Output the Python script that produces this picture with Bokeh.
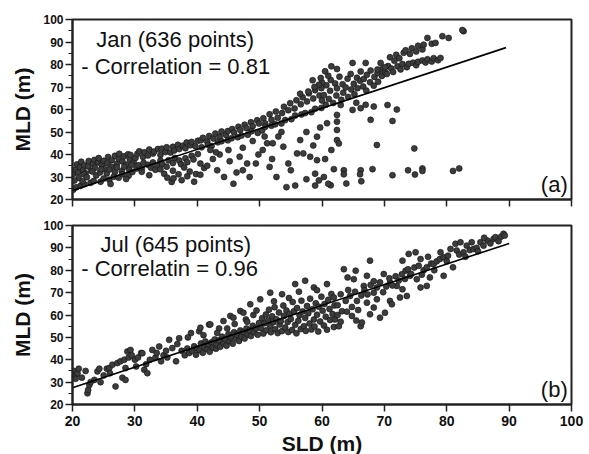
from bokeh.plotting import figure
from bokeh.layouts import column
from bokeh.models import Label, FixedTicker
from bokeh.embed import file_html
from bokeh.resources import INLINE

# ---------------- data ----------------
ticks = [20, 30, 40, 50, 60, 70, 80, 90, 100]
minor = [25, 35, 45, 55, 65, 75, 85, 95]

# Jan panel (a): (SLD, MLD) pairs grouped by region
jan_a = [(20.2,31.5),(20.5,33.2),(20.7,35.6),(20.9,32.1),(21.2,34.4),(21.4,36.8),(21.7,33.0),(21.9,35.2),(22.1,31.6),(22.5,34.7),
         (22.6,37.1),(23.0,32.8),(23.3,35.9),(23.5,37.6),(23.6,34.1),(24.1,36.5),(24.2,38.4),(24.7,35.3),(25.0,37.2),(25.1,33.6),
         (25.6,36.1),(25.7,38.9),(26.2,34.6),(26.3,37.5),(26.8,39.4),(27.1,35.8),(27.4,38.1),(27.5,40.3),(28.0,36.9),(28.3,39.2),
         (28.6,35.5),(28.9,40.1),(29.2,37.7),(29.3,39.8),(29.8,36.6),(30.1,38.5),
         (21.0,29.6),(21.8,31.2),(22.3,29.9),(23.2,32.4),(23.8,30.7),(24.4,32.0),(24.6,33.5),(25.5,31.6),(25.9,33.3),(26.8,32.2),
         (27.1,34.3),(27.9,32.7),(28.3,34.6),(29.1,33.1),(29.5,35.4),(30.3,33.8),
         (20.1,24.3),(20.6,25.4),(21.3,26.1),(21.9,26.8),(22.9,27.4),(23.4,28.2),(24.5,27.9),(25.0,29.3),(25.9,28.8),(26.6,30.1),
         (27.4,29.7),(28.0,31.2),(29.0,30.6),(29.6,32.2),(20.3,28.4),(21.6,28.1),(26.1,26.9),(28.6,29.1)]
jan_b = [(30.4,40.3),(30.7,41.4),(31.3,38.9),(31.5,41.0),(32.1,39.6),(32.3,42.2),(32.9,40.4),(33.1,41.3),(33.7,42.4),(34.1,39.8),
         (34.3,42.6),(34.9,41.1),(35.1,43.2),(35.7,40.9),(36.1,43.4),(36.3,41.8),(36.9,44.3),(37.1,42.4),(37.7,43.9),(38.1,42.8),
         (38.3,45.3),(38.9,44.1),(39.1,45.6),(39.7,43.7),(40.1,46.1),
         (30.6,35.2),(31.1,33.7),(31.4,36.3),(32.1,35.4),(32.6,34.1),(32.9,36.5),(33.6,35.1),(34.1,37.3),(34.4,35.8),(35.1,34.6),
         (35.4,37.4),(36.1,36.2),(36.4,38.5),(37.1,37.3),(37.4,35.7),(38.1,38.3),(38.4,36.6),(39.1,39.4),(39.4,37.8),(40.1,40.2),
         (31.1,32.3),(32.3,30.8),(33.3,33.2),(34.7,31.4),(35.2,29.7),(35.9,27.8),(36.2,29.4),(37.0,31.2),(37.5,28.6),(38.4,30.3),
         (38.8,32.4),(39.5,27.9),(39.8,31.3),(34.1,33.4),(36.1,32.8),(37.9,34.2)]
jan_c = [(40.6,46.3),(40.9,47.4),(41.6,45.8),(41.9,48.2),(42.6,47.1),(42.9,49.3),(43.6,47.9),(43.9,50.2),(44.6,48.7),(44.9,50.4),
         (45.6,51.3),(45.9,49.8),(46.6,52.3),(46.9,50.9),(47.6,53.2),(47.9,51.7),(48.6,54.3),(48.9,52.6),(49.6,55.2),(49.9,53.8),
         (40.7,43.2),(41.7,44.3),(42.3,43.8),(43.3,45.4),(43.9,45.9),(44.9,46.3),(45.5,47.2),(46.5,47.7),(47.1,48.4),(48.1,48.8),
         (48.7,50.3),(49.7,49.6),
         (40.5,36),(40.5,31),(41.1,34),(41.6,35),(42.1,42),(42.5,38),(43.2,33),(43.6,40),(44.3,30),(45.2,37),
         (45.8,27),(46.3,32),(47.3,43),(47.3,33),(48.0,36),(48.4,30),(48.9,46),(49.4,36),(49.8,40),(45.0,42),
         (43.0,41),(46.8,39)]
jan_d = [(50.6,56.1),(50.9,53.8),(51.6,57.9),(51.9,55.4),(52.6,59.1),(52.9,56.3),(53.6,58.4),(53.9,61.2),(54.6,59.7),(54.9,62.8),
         (55.6,60.5),(55.9,64.1),(56.6,62.3),(56.9,65.4),(57.6,63.6),(57.9,67.2),(58.6,64.9),(58.9,68.6),(59.6,66.2),(59.9,69.5),
         (50.4,50.7),(50.9,52.3),(51.9,52.8),(52.5,53.4),(53.5,53.8),(54.1,55.3),(55.1,55.7),(55.7,57.3),(56.7,57.8),(57.3,58.4),
         (58.3,58.8),(58.9,60.3),(59.9,60.7),
         (50.5,42),(51.2,45),(51.6,34.5),(52.1,45),(52.7,30),(53.0,48),(53.8,43.5),(54.3,25.5),(54.6,36),(55.7,26.2),
         (56.0,40.5),(56.5,46.4),(57.0,40.5),(57.5,50),(58.1,39),(58.6,44),(58.9,31.5),(58.9,26.2),(59.2,37.5),(59.2,47.9),
         (59.5,28.5),(59.7,52),(52.0,38),(55.0,33),(57.5,29),(53.5,50),(50.8,48)]
jan_e = [(60.3,66.4),(60.6,62.1),(60.7,70.8),(61.1,64.7),(61.3,68.3),(61.4,73.1),(61.8,62.9),(62.1,71.6),(62.3,66.2),(62.4,69.4),
         (62.8,74.6),(63.1,64.3),(63.3,71.2),(63.4,67.5),(63.8,69.8),(64.1,73.7),(64.2,65.6),(64.6,75.8),(64.7,68.9),(65.1,71.4),
         (65.2,66.8),(65.6,74.1),(65.7,69.5),(66.1,72.8),(66.2,76.9),(66.6,70.2),(66.7,73.6),(67.1,68.4),(67.2,75.4),(67.7,72.1),
         (67.8,77.3),(68.3,70.6),(68.4,74.5),(68.9,76.2),(69.0,72.3),(69.5,77.8),(69.6,74.9),(70.1,76.6),
         (60.0,72),(61.0,75),(60.5,77),(62.4,78),(64.9,80.7),(67.0,80.7),(69.4,80.7),(61.5,79.2),(59.8,74),(59.5,71),
         (60.0,64),(58.8,70),(58.5,73),(57.8,68),(56.5,67),
         (60.8,53.9),(62.4,50.9),(62.4,46.4),(62.4,57.6),(62.4,54.6),(64.9,59.8),(66.2,60.6),(67.0,62.1),(68.3,61.3),(67.8,55.4),
         (71.3,54.9),(62.7,44.9),(68.8,44.2),(61.4,26.3),(61.9,33.5),(63.5,33.0),(63.5,31.2),(66.2,33.0),(66.1,31.2),(68.1,33.5),
         (63.9,27.1),(66.3,28.1),(61.0,27),(60.3,30),(60.5,38),(61.5,42),(63.0,62),(65.5,63)]
jan_f = [(70.6,79.3),(70.9,83.2),(71.6,81.7),(71.9,84.3),(72.4,82.8),(73.1,85.2),(73.4,86.3),(74.1,84.7),(74.4,87.2),(75.1,85.8),
         (75.4,88.3),(76.1,86.7),(76.3,88.8),(76.9,91.8),(77.6,89.2),(78.2,89.6),(79.3,92.6),(80.3,91.8),(82.7,94.8),(82.5,95.3),
         (70.4,75.8),(71.1,78.2),(71.4,76.7),(72.1,79.2),(72.6,77.8),(72.9,80.2),(73.6,78.8),(73.9,80.3),(74.6,80.8),(75.1,79.7),
         (75.4,81.2),(76.1,81.8),(76.6,80.9),(76.9,82.3),(77.6,81.3),(77.9,82.8),(78.6,81.9),(79.0,82.9),(70.1,78.8),(68.9,77.8),
         (71.3,30.8),(73.8,33.0),(74.9,31.1),(76.1,33.8),(76.1,32.7),(81.0,32.7),(82.0,33.8),(74.8,42.7),(72.0,60),(70.5,62)]

# Jul panel (b)
jul_a = [(20.2,35),(20.5,33),(20.5,31.5),(20.8,34),(21.0,36),(21.5,32),(22.1,35),(22.4,25),(22.5,26.5),(22.7,28.7),
         (22.9,30),(23.5,31),(24.0,34.8),(24.3,36),(25.0,33),(25.5,36),(25.9,36.3),(26.4,37.8),(26.9,28.1),(27.2,38.5),
         (27.7,39.3),(28.0,32),(28.3,40),(28.5,36.3),(28.5,31),(28.8,43.7),(29.0,41),(29.3,44.4),(29.5,42),(30.0,40),
         (26.0,34),(24.5,30)]
jul_b = [(30.5,41),(31.0,43),(31.2,42.9),(31.5,35.5),(32.0,34),(32.4,40),(32.8,44.4),(33.3,41),(33.9,45.9),(34.2,39.3),
         (34.6,42),(35.0,44),(35.5,48.9),(36.0,45.2),(36.6,39.3),(37.1,49.6),(37.5,44),(38.0,42),(38.4,45),(38.7,43),
         (39.0,51.9),(39.2,44),(39.5,46),(39.8,42.2),(40.0,45),(40.3,52.7),(38.5,50),(36.8,47),(35.2,41),(33.5,43),
         (31.8,38),(30.2,37)]
jul_c = [(40.4,44.2),(40.6,47.3),(40.9,43.1),(41.1,45.8),(41.3,48.2),(41.6,44.7),(41.8,46.9),(42.0,43.6),(42.3,47.8),(42.5,45.4),
         (42.8,49.1),(43.0,44.9),(43.2,46.6),(43.5,48.7),(43.7,45.8),(44.0,50.3),(44.2,47.4),(44.5,49.2),(44.7,46.3),(45.0,51.4),
         (45.2,48.3),(45.4,50.1),(45.7,47.2),(45.9,52.3),(46.2,49.6),(46.4,51.2),(46.7,48.4),(46.9,53.1),(47.1,50.2),(47.4,52.4),
         (47.6,49.5),(47.9,54.0),(48.1,51.3),(48.4,53.2),(48.6,50.6),(48.9,55.2),(49.1,52.3),(49.4,54.1),(49.7,51.2),(49.9,56.4),
         (41.9,55.7),(42.1,55.8),(43.5,54.0),(44.2,57.3),(45.3,59.6),(45.8,58.8),(46.9,61.8),(47.4,61.0),(48.5,64.8),(49.0,60.0),
         (47.8,58.0),(46.0,56.0),(44.8,54.0),(43.2,52.0),(40.5,54.3),(41.0,51.0),(48.0,57.0),(49.5,62.0)]
jul_d = [(50.2,54.1),(50.4,58.6),(50.6,51.7),(50.8,56.3),(51.0,60.2),(51.1,53.2),(51.4,57.7),(51.5,62.4),(51.7,55.1),(51.8,52.3),
         (52.0,59.4),(52.2,56.8),(52.4,63.5),(52.5,53.6),(52.7,58.1),(52.9,51.9),(53.1,61.1),(53.2,55.7),(53.4,57.3),(53.6,52.8),
         (53.8,64.2),(53.9,59.6),(54.1,54.4),(54.3,62.0),(54.5,56.9),(54.6,52.4),(54.8,60.5),(55.0,58.2),(55.2,53.3),(55.3,65.8),
         (55.5,61.7),(55.7,55.6),(55.9,51.8),(56.0,63.1),(56.2,57.4),(56.4,59.9),(56.6,53.7),(56.7,66.4),(56.9,61.6),(57.1,55.0),
         (57.3,58.7),(57.4,52.9),(57.6,64.0),(57.8,60.8),(58.0,56.2),(58.1,67.3),(58.3,53.5),(58.5,62.6),(58.7,58.0),(58.8,54.9),
         (59.0,65.2),(59.2,60.1),(59.4,52.6),(59.5,63.7),(59.7,57.1),(59.9,68.2),(60.1,61.9),(60.3,55.3),(60.4,64.9),(60.6,59.2),
         (60.8,53.4),(61.0,66.8),(61.2,62.7),(61.3,57.8),(61.5,69.4),(61.7,60.4),(61.9,54.6),(62.0,64.3),
         (50.1,67.0),(51.7,70.0),(53.6,69.3),(55.7,73.8),(57.3,75.3),(58.7,72.3),(60.8,73.8),(52.3,66.1),(54.7,67.6),(56.3,70.4),
         (59.2,71.1)]
jul_e = [(62.1,58),(62.7,55),(63.0,69.3),(63.5,80.5),(64.1,76.8),(64.5,68.5),(64.8,59.6),(65.1,76),(65.4,79.8),(65.6,66.3),
         (66.2,55),(66.4,56.6),(66.7,73),(67.2,77.5),(67.2,65.5),(67.7,84.3),(67.7,60.3),(68.3,70),(68.3,63.3),(68.8,67),
         (69.3,58.8),(69.9,78.3),(70.1,61),(70.9,74.5),(70.9,66.3),(71.2,64.8),(72.0,73),(72.5,67.8),(72.9,71.5),(72.9,84.3),
         (73.4,79.8),(73.6,68.5),(73.9,87.3),(74.1,77.5),(75.0,88),(62.5,64.4),(63.2,61.7),(63.8,66.3),(64.2,71.2),(64.8,63.6),
         (65.3,70.4),(65.8,62.2),(66.3,68.7),(66.8,71.1),(67.3,69.2),(67.8,73.4),(68.3,75.1),(68.8,72.3),(69.3,74.6),(69.8,70.2),
         (70.3,72.7),(70.8,76.4),(71.3,73.2),(71.8,77.3),(72.3,75.4),(72.8,78.2),(73.3,76.1),(73.8,80.4),(74.3,78.3),(74.8,81.2),
         (62.5,60),(64.0,61.5),(65.5,57.5),(63.0,57),(61.9,67.8)]
jul_f = [(75.2,76),(75.5,82),(75.8,85),(75.8,72.3),(76.3,80),(76.8,81.3),(76.8,73),(77.3,76.8),(77.5,83),(77.9,82.8),
         (78.4,84),(78.9,85),(79.5,85.8),(79.5,77.5),(80.0,84),(80.6,89.5),(81.0,81.3),(81.4,91.8),(81.6,88.8),(82.0,87),
         (82.2,92.5),(82.7,88),(83.2,91),(83.7,89),(84.3,89.5),(84.8,90),(85.4,92.5),(85.9,91),(86.5,93.3),(87.0,92),
         (87.5,94),(87.8,94.8),(88.3,93),(88.7,95),(89.1,96.3),(89.3,95.5),(76.0,78),(78.0,80),(80.2,86.5),(83.0,86),
         (85.0,88.5),(86.0,94.5),(84.0,92.5),(79.0,88),(77.0,86)]

# regression lines (end points)
jan_fit_sld = [20, 89.5]
jan_fit_mld = [24, 87.5]
jul_fit_sld = [20, 90]
jul_fit_mld = [27.5, 92]

jan_pts = jan_a + jan_b + jan_c + jan_d + jan_e + jan_f
jul_pts = jul_a + jul_b + jul_c + jul_d + jul_e + jul_f
jan_sld = [p[0] for p in jan_pts]
jan_mld = [p[1] for p in jan_pts]
jul_sld = [p[0] for p in jul_pts]
jul_mld = [p[1] for p in jul_pts]

FONT = "Liberation Sans"


def make_panel(sld, mld, fit_x, fit_y, title1, title2, tag, show_x_labels, border_top, border_bottom):
    p = figure(frame_width=499, frame_height=179 if show_x_labels else 180,
               x_range=(20, 100), y_range=(20, 100),
               output_backend="svg", toolbar_location=None,
               min_border_left=72, min_border_right=18,
               min_border_top=border_top, min_border_bottom=border_bottom)
    p.background_fill_color = "white"
    p.border_fill_color = "white"
    p.outline_line_color = "#222222"
    p.outline_line_width = 2
    p.xgrid.visible = False
    p.ygrid.visible = False

    p.scatter(sld, mld, marker="circle", size=6, fill_color="#3c3c3c",
              line_color="#111111", line_width=0.6)
    p.line(fit_x, fit_y, line_color="black", line_width=1.6)

    p.xaxis.ticker = FixedTicker(ticks=ticks)
    p.yaxis.ticker = FixedTicker(ticks=ticks, minor_ticks=minor)
    for ax in (p.xaxis[0], p.yaxis[0]):
        ax.axis_line_width = 2
        ax.axis_line_color = "#222222"
        ax.major_tick_line_width = 1.5
        ax.major_tick_line_color = "#222222"
        ax.major_tick_out = 7
        ax.major_tick_in = 0
        ax.minor_tick_out = 4
        ax.minor_tick_in = 0
        ax.minor_tick_line_color = "#222222"
        ax.major_label_text_font = FONT
        ax.major_label_text_font_style = "bold"
        ax.major_label_text_color = "#111111"
        ax.axis_label_text_font = FONT
        ax.axis_label_text_font_style = "bold"
        ax.axis_label_text_font_size = "21px"
        ax.axis_label_text_color = "#111111"
    p.xaxis.minor_tick_line_color = None
    p.yaxis.major_label_text_font_size = "12px"
    p.yaxis.major_label_standoff = 2
    p.yaxis.axis_label = "MLD (m)"
    p.yaxis.axis_label_standoff = 6
    if show_x_labels:
        p.xaxis.major_label_text_font_size = "14px"
        p.xaxis.major_label_standoff = 4
        p.xaxis.axis_label = "SLD (m)"
        p.xaxis.axis_label_standoff = 3
    else:
        p.xaxis.major_label_overrides = {t: "" for t in ticks}
        p.xaxis.major_label_text_font_size = "1px"
        p.xaxis.major_label_standoff = 0

    p.add_layout(Label(x=title1[1], y=title1[2], text=title1[0], text_baseline="top",
                       text_font=FONT, text_font_size="22px", text_color="#111111"))
    p.add_layout(Label(x=title2[1], y=title2[2], text=title2[0], text_baseline="top",
                       text_font=FONT, text_font_size="22px", text_color="#111111"))
    p.add_layout(Label(x=99.4, y=21.2, text=tag, text_align="right", text_baseline="bottom",
                       text_font=FONT, text_font_size="22px", text_color="#111111"))
    return p


p1 = make_panel(jan_sld, jan_mld, jan_fit_sld, jan_fit_mld,
                ("Jan (636 points)", 23.8, 96.6), ("- Correlation = 0.81", 21.4, 84.6),
                "(a)", False, 19, 13)
p2 = make_panel(jul_sld, jul_mld, jul_fit_sld, jul_fit_mld,
                ("Jul (645 points)", 24.5, 97.1), ("- Correlatin = 0.96", 21.4, 86.3),
                "(b)", True, 13, 50)

layout = column(p1, p2, spacing=0)
open("out.html", "w").write(file_html(layout, INLINE))
